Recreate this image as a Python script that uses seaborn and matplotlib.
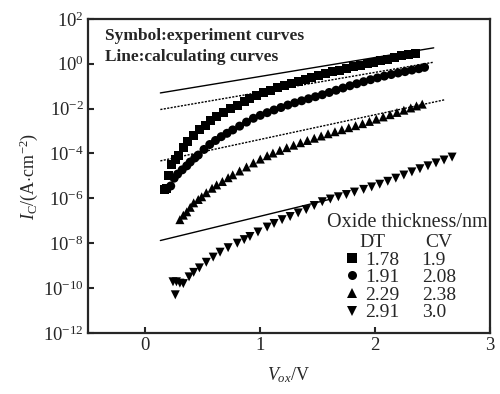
import numpy as np
import pandas as pd
import seaborn as sns
import matplotlib.pyplot as plt
from matplotlib.lines import Line2D

# measured current density, stored as log10(A/cm^2)
dt_labels = ["1.78", "1.91", "2.29", "2.91"]
cv_labels = ["1.9", "2.08", "2.38", "3.0"]
markers = ["s", "o", "^", "v"]

v_sq = [0.17, 0.18, 0.20, 0.23, 0.26, 0.29, 0.33, 0.37, 0.42, 0.47, 0.52, 0.57, 0.62, 0.68,
        0.74, 0.80, 0.86, 0.91, 0.97, 1.03, 1.09, 1.15, 1.21, 1.27, 1.33, 1.39, 1.45, 1.51,
        1.57, 1.63, 1.69, 1.75, 1.81, 1.87, 1.93, 1.99, 2.05, 2.11, 2.17, 2.23, 2.29, 2.35]
lg_sq = [-5.62, -5.58, -4.96, -4.5, -4.28, -4.07, -3.72, -3.45, -3.18, -2.95, -2.74, -2.55,
         -2.37, -2.18, -2.0, -1.84, -1.68, -1.55, -1.42, -1.3, -1.18, -1.07, -0.97, -0.87,
         -0.78, -0.69, -0.6, -0.52, -0.44, -0.36, -0.28, -0.21, -0.14, -0.07, 0.0, 0.07,
         0.14, 0.21, 0.28, 0.35, 0.41, 0.47]

v_ci = [0.22, 0.25, 0.28, 0.32, 0.36, 0.39, 0.43, 0.46, 0.51, 0.56, 0.61, 0.66, 0.71, 0.76,
        0.82, 0.88, 0.94, 1.00, 1.06, 1.12, 1.18, 1.24, 1.30, 1.36, 1.42, 1.48, 1.54, 1.60,
        1.66, 1.72, 1.78, 1.84, 1.90, 1.96, 2.02, 2.08, 2.14, 2.20, 2.26, 2.32, 2.38, 2.43]
lg_ci = [-5.45, -5.1, -4.92, -4.73, -4.55, -4.38, -4.2, -4.07, -3.82, -3.6, -3.42, -3.25,
         -3.1, -2.95, -2.78, -2.6, -2.43, -2.3, -2.18, -2.06, -1.95, -1.84, -1.74, -1.65,
         -1.56, -1.47, -1.38, -1.28, -1.18, -1.08, -0.98, -0.89, -0.8, -0.71, -0.63, -0.55,
         -0.48, -0.41, -0.35, -0.28, -0.22, -0.16]

v_up = [0.30, 0.33, 0.36, 0.39, 0.42, 0.46, 0.49, 0.53, 0.58, 0.62, 0.67, 0.72, 0.76, 0.82,
        0.88, 0.94, 1.00, 1.06, 1.11, 1.17, 1.23, 1.29, 1.35, 1.41, 1.47, 1.53, 1.59, 1.65,
        1.71, 1.77, 1.83, 1.89, 1.95, 2.01, 2.07, 2.13, 2.19, 2.25, 2.31, 2.36, 2.41]
lg_up = [-6.95, -6.75, -6.6, -6.4, -6.2, -6.05, -5.93, -5.75, -5.55, -5.4, -5.25, -5.08,
         -4.95, -4.78, -4.6, -4.42, -4.25, -4.1, -3.98, -3.86, -3.74, -3.63, -3.52, -3.42,
         -3.32, -3.22, -3.12, -3.03, -2.94, -2.85, -2.76, -2.67, -2.57, -2.47, -2.37, -2.27,
         -2.17, -2.07, -1.97, -1.88, -1.8]

v_dn = [0.24, 0.26, 0.27, 0.30, 0.33, 0.38, 0.42, 0.47, 0.53, 0.59, 0.65, 0.72, 0.80, 0.86,
        0.91, 0.98, 1.06, 1.12, 1.19, 1.26, 1.33, 1.40, 1.47, 1.54, 1.61, 1.68, 1.75, 1.82,
        1.90, 1.97, 2.04, 2.11, 2.18, 2.25, 2.32, 2.39, 2.46, 2.53, 2.60, 2.67]
lg_dn = [-9.72, -10.3, -9.72, -9.78, -9.8, -9.5, -9.3, -9.1, -8.85, -8.62, -8.4, -8.2, -8.0,
         -7.84, -7.7, -7.5, -7.28, -7.12, -6.95, -6.81, -6.65, -6.5, -6.32, -6.15, -6.03,
         -5.93, -5.83, -5.72, -5.6, -5.49, -5.37, -5.24, -5.1, -4.96, -4.82, -4.68, -4.55,
         -4.42, -4.29, -4.16]

# calculated curves (straight in log scale), endpoints
calc_v = [[0.13, 2.51], [0.13, 2.51], [0.13, 2.61], [0.13, 1.60]]
calc_lg = [[-1.3, 0.71], [-2.04, 0.07], [-4.33, -1.6], [-7.88, -6.05]]
calc_ls = ["-", (0, (1.5, 1)), (0, (1.5, 1)), "-"]

sns.set_style("ticks")
plt.rcParams["font.family"] = ["Liberation Serif", "DejaVu Serif"]
plt.rcParams["mathtext.fontset"] = "custom"
plt.rcParams["mathtext.rm"] = "Liberation Serif"
plt.rcParams["mathtext.it"] = "Liberation Serif:italic"
plt.rcParams["mathtext.bf"] = "Liberation Serif:bold"
plt.rcParams["axes.unicode_minus"] = False

rows = []
for lab, vs, lg in zip(dt_labels, [v_sq, v_ci, v_up, v_dn], [lg_sq, lg_ci, lg_up, lg_dn]):
    for v, l in zip(vs, lg):
        rows.append({"V": v, "I": 10 ** l, "DT": lab})
meas = pd.DataFrame(rows)

fig = plt.figure(figsize=(5.0, 3.94), dpi=100)
ax = fig.add_axes([0.176, 0.155, 0.804, 0.797])

for vs, lg, ls in zip(calc_v, calc_lg, calc_ls):
    sns.lineplot(x=vs, y=10 ** np.array(lg), ax=ax, color="black", lw=1.0,
                 linestyle=ls, legend=False)

sns.scatterplot(data=meas, x="V", y="I", style="DT", markers=dict(zip(dt_labels, markers)),
                color="black", edgecolor="black", s=42, linewidth=0, ax=ax, legend="full")

ax.set_yscale("log")
ax.set_xlim(-0.5, 3)
ax.set_ylim(1e-12, 1e2)
ax.set_xticks([0, 1, 2, 3])
ax.set_yticks([10.0 ** k for k in range(-12, 3, 2)])
ax.minorticks_off()
ax.tick_params(direction="in", length=4, width=1.5, labelsize=13.5, pad=3)
for sp in ax.spines.values():
    sp.set_linewidth(1.6)

ax.set_xlabel(r"$V_{ox}$/V", fontsize=13, labelpad=8)
ax.set_ylabel(r"$I_{\mathrm{C}}$/(A$\cdot$cm$^{-2}$)", fontsize=13, labelpad=2)

ax.text(0.042, 0.946, "Symbol:experiment curves", transform=ax.transAxes,
        fontsize=12.5, fontweight="bold", va="center")
ax.text(0.042, 0.879, "Line:calculating curves", transform=ax.transAxes,
        fontsize=12.5, fontweight="bold", va="center")
ax.text(0.595, 0.352, "Oxide thickness/nm", transform=ax.transAxes,
        fontsize=14.5, va="center")

handles, labels = ax.get_legend_handles_labels()
leg1 = ax.legend(handles, labels, title="DT", loc="upper left",
                 bbox_to_anchor=(0.64, 0.315), frameon=False, fontsize=14,
                 title_fontsize=14, handlelength=0.7, handletextpad=0.3,
                 labelspacing=0.0, borderpad=0, borderaxespad=0)
ax.add_artist(leg1)
blank = [Line2D([], [], linestyle="none") for _ in cv_labels]
ax.legend(blank, cv_labels, title="CV", loc="upper left",
          bbox_to_anchor=(0.83, 0.315), frameon=False, fontsize=14,
          title_fontsize=14, handlelength=0, handletextpad=0,
          labelspacing=0.0, borderpad=0, borderaxespad=0)

fig.savefig("out.png", dpi=100)
